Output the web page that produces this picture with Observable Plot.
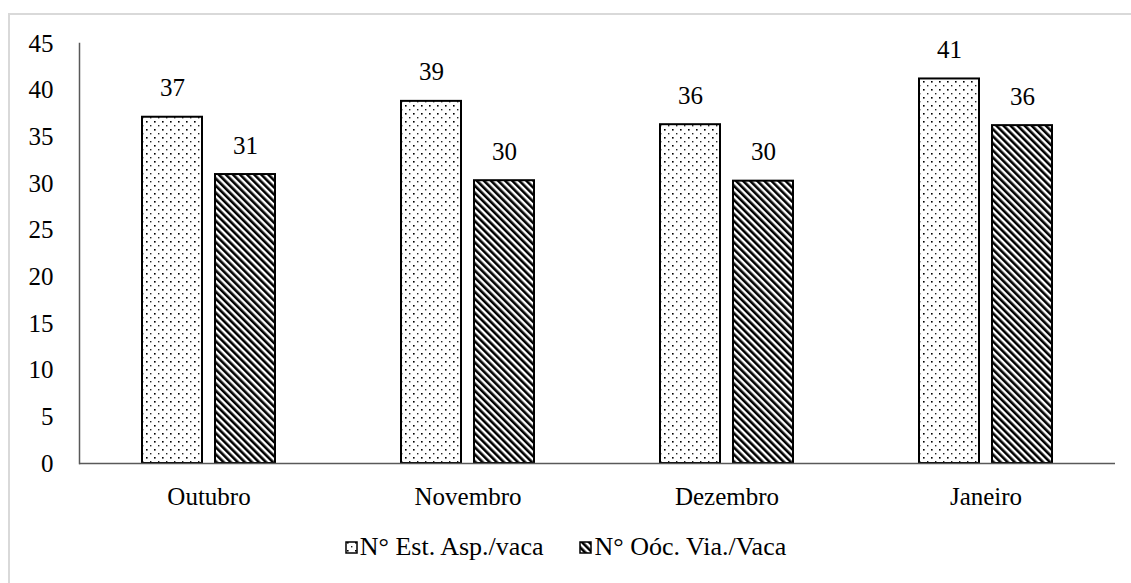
<!DOCTYPE html>
<html>
<head>
<meta charset="utf-8">
<script src="https://cdn.jsdelivr.net/npm/d3@7"></script>
<script src="https://cdn.jsdelivr.net/npm/@observablehq/plot@0.6"></script>
<style>
  html, body { margin: 0; padding: 0; background: #fff; }
  body { width: 1131px; height: 583px; position: relative; overflow: hidden; font-family: "Liberation Serif", Tinos, "Times New Roman", serif; }
  #border { position: absolute; left: 8px; top: 13px; width: 1140px; height: 600px; border: 2px solid #d9d9d9; box-sizing: border-box; }
  #chart { position: absolute; left: 0; top: 0; }
  #chart svg text { font-family: "Liberation Serif", Tinos, "Times New Roman", serif; }
  #legend { position: absolute; top: 532px; left: 0; width: 1131px; display: flex; justify-content: center; font-size: 26px; color: #000; padding-left: 0; }
  #legend .item { display: flex; align-items: center; margin: 0 18px; }
  #legend svg { margin-right: 2px; }
</style>
</head>
<body>
<div id="border"></div>
<svg width="0" height="0" style="position:absolute">
  <defs>
    <pattern id="dots" patternUnits="userSpaceOnUse" width="8" height="8">
      <rect width="8" height="8" fill="#fff"/>
      <rect x="2" y="1" width="1.6" height="1.6" fill="#000"/>
      <rect x="6" y="5" width="1.4" height="1.4" fill="#222"/>
    </pattern>
    <pattern id="hatch" patternUnits="userSpaceOnUse" width="5" height="5" patternTransform="rotate(-45)">
      <rect width="5" height="5" fill="#fff"/>
      <rect x="0" y="0" width="2.6" height="5" fill="#000"/>
    </pattern>
  </defs>
</svg>
<div id="chart"></div>
<div id="legend"></div>
<script>
const months = ["Outubro", "Novembro", "Dezembro", "Janeiro"];
const seriesNames = ["N° Est. Asp./vaca", "N° Oóc. Via./Vaca"];
const estAsp = [37.1, 38.8, 36.3, 41.2];
const oocVia = [30.96, 30.3, 30.25, 36.2];
const yTicks = [0, 5, 10, 15, 20, 25, 30, 35, 40, 45];
const fills = ["url(#dots)", "url(#hatch)"];

const data = [];
months.forEach((m, i) => {
  data.push({month: m, series: seriesNames[0], value: estAsp[i]});
  data.push({month: m, series: seriesNames[1], value: oocVia[i]});
});

const fmt = d3.format(".0f");

const chart = Plot.plot({
  width: 1131,
  height: 520,
  marginLeft: 79,
  marginRight: 16,
  marginTop: 43,
  marginBottom: 57,
  style: {fontSize: "25px", color: "#000", background: "transparent"},
  fx: {domain: months, padding: 0, label: null, axis: "bottom", tickSize: 0, tickPadding: 24},
  x: {domain: seriesNames, paddingInner: 0.18, paddingOuter: 0.86, axis: null},
  y: {domain: [0, 45], ticks: yTicks, tickSize: 0, tickPadding: 26, label: null},
  marks: [
    Plot.barY(data, {fx: "month", x: "series", y: "value", fill: d => fills[seriesNames.indexOf(d.series)], stroke: "#000", strokeWidth: 2}),
    Plot.text(data, {fx: "month", x: "series", y: "value", text: d => fmt(d.value), dy: -29, fill: "#000", fontSize: 25}),
    Plot.ruleY([0], {stroke: "#595959", strokeWidth: 1.5}),
    Plot.frame({anchor: "left", facet: "super", stroke: "#595959", strokeWidth: 1.5})
  ]
});
document.getElementById("chart").appendChild(chart);

const legend = document.getElementById("legend");
seriesNames.forEach((name, i) => {
  const item = document.createElement("div");
  item.className = "item";
  item.innerHTML = `<svg width="13" height="13"><rect x="1" y="1" width="11" height="11" fill="${fills[i]}" stroke="#000" stroke-width="1.5"/></svg><span>${name}</span>`;
  legend.appendChild(item);
});
</script>
</body>
</html>
